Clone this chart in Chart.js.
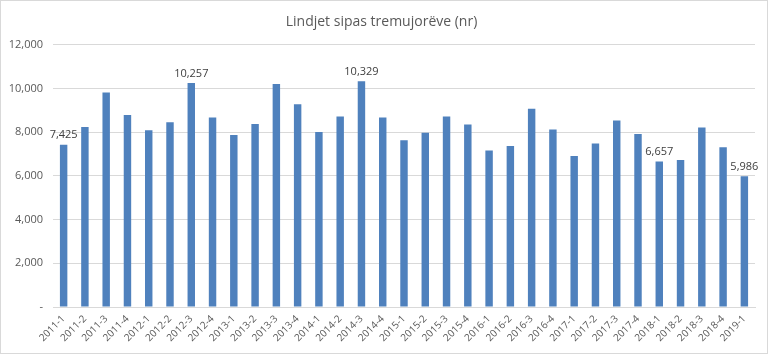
<!DOCTYPE html>
<html>
<head>
<meta charset="utf-8">
<script src="https://cdn.jsdelivr.net/npm/chart.js@4"></script>
<style>
  body { margin: 0; background: #fff; }
  #wrap { width: 768px; height: 354px; position: relative; }
</style>
</head>
<body>
<div id="wrap"><canvas id="births-chart"></canvas></div>
<script>
// quarters and number of births
const quarters = [
    '2011-1', '2011-2', '2011-3', '2011-4',
    '2012-1', '2012-2', '2012-3', '2012-4',
    '2013-1', '2013-2', '2013-3', '2013-4',
    '2014-1', '2014-2', '2014-3', '2014-4',
    '2015-1', '2015-2', '2015-3', '2015-4',
    '2016-1', '2016-2', '2016-3', '2016-4',
    '2017-1', '2017-2', '2017-3', '2017-4',
    '2018-1', '2018-2', '2018-3', '2018-4',
    '2019-1',
];
const births = [
    7425, 8240, 9820, 8790,
    8090, 8460, 10257, 8670,
    7870, 8380, 10210, 9280,
    8010, 8720, 10329, 8670,
    7630, 7980, 8720, 8350,
    7160, 7370, 9070, 8120,
    6910, 7480, 8530, 7920,
    6657, 6730, 8210, 7310,
    5986,
];
// bars that carry a value label
const labelledQuarters = ['2011-1', '2012-3', '2014-3', '2018-1', '2019-1'];
const yTicks = [0, 2000, 4000, 6000, 8000, 10000, 12000];

const fontFamily = "'Open Sans', 'Liberation Sans', sans-serif";

const framePlugin = {
    id: 'frame',
    beforeDraw: function(chart) {
        const ctx = chart.ctx;
        ctx.save();
        ctx.fillStyle = '#ffffff';
        ctx.fillRect(0, 0, chart.width, chart.height);
        ctx.strokeStyle = '#d9d9d9';
        ctx.lineWidth = 1;
        ctx.strokeRect(0.5, 0.5, chart.width - 1, chart.height - 1);
        ctx.restore();
    }
};

const valueLabels = {
    id: 'valueLabels',
    afterDatasetsDraw: function(chart) {
        const ctx = chart.ctx;
        const meta = chart.getDatasetMeta(0);
        ctx.save();
        ctx.font = '11px ' + fontFamily;
        ctx.fillStyle = '#404040';
        ctx.textAlign = 'center';
        ctx.textBaseline = 'bottom';
        chart.data.labels.forEach((label, i) => {
            if (!labelledQuarters.includes(label)) return;
            const bar = meta.data[i];
            const value = chart.data.datasets[0].data[i];
            ctx.fillText(value.toLocaleString('en-US'), bar.x, bar.y - 4);
        });
        ctx.restore();
    }
};

const ctx = document.getElementById('births-chart').getContext('2d');

new Chart(ctx, {
    type: 'bar',
    data: {
        labels: quarters,
        datasets: [{
            label: 'Lindjet',
            data: births,
            backgroundColor: '#4f81bd',
            barPercentage: 0.35,
            categoryPercentage: 1.0,
        }],
    },
    options: {
        responsive: true,
        maintainAspectRatio: false,
        animation: false,
        layout: {
            padding: { left: 8, right: 13, top: 0, bottom: 0 },
        },
        plugins: {
            legend: { display: false },
            tooltip: { enabled: false },
            title: {
                display: true,
                text: 'Lindjet sipas tremujorëve (nr)',
                color: '#595959',
                font: { family: fontFamily, size: 14, weight: 'normal' },
                padding: { top: 14, bottom: 14 },
            },
        },
        scales: {
            x: {
                grid: { display: false, drawTicks: false },
                border: { color: '#d9d9d9' },
                ticks: {
                    color: '#595959',
                    font: { family: fontFamily, size: 10 },
                    minRotation: 45,
                    maxRotation: 45,
                    autoSkip: false,
                    padding: 6,
                },
                afterFit: function(scale) { scale.height = 47; },
            },
            y: {
                min: 0,
                max: 12000,
                afterBuildTicks: function(scale) {
                    scale.ticks = yTicks.map(v => ({ value: v }));
                },
                grid: { color: '#d9d9d9', drawTicks: false },
                border: { display: false },
                ticks: {
                    color: '#595959',
                    font: { family: fontFamily, size: 11 },
                    padding: 10,
                    callback: function(value) {
                        return value === 0 ? '-' : value.toLocaleString('en-US');
                    },
                },
                afterFit: function(scale) { scale.width = 45; },
            },
        },
    },
    plugins: [framePlugin, valueLabels],
});
</script>
</body>
</html>
